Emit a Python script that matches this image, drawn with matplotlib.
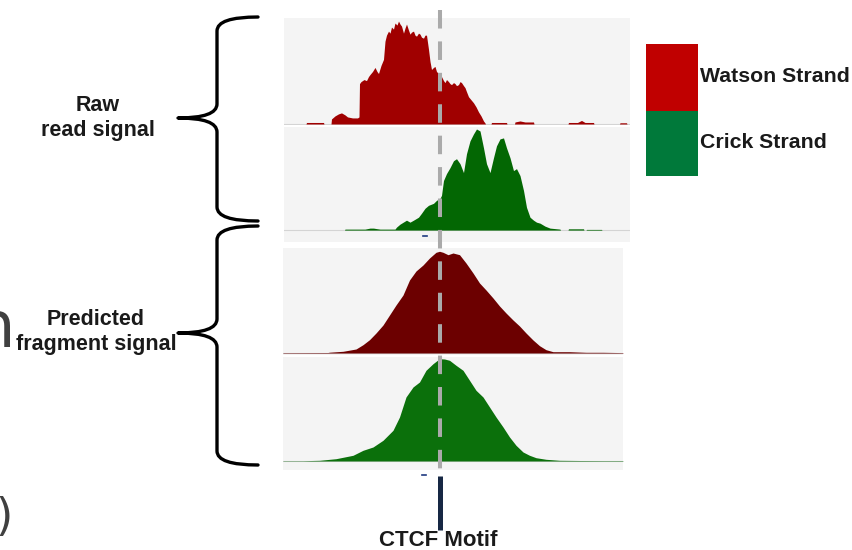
import matplotlib.pyplot as plt
from matplotlib.path import Path
from matplotlib.patches import PathPatch, Rectangle

# signal tracks around a CTCF motif (position in bp relative to motif)
# heights (arbitrary signal units)

watson_raw_pos = [-268, -267, -233, -232, -218, -217, -210, -203, -197, -190, -185, -175,
                  -165, -162, -161, -158, -152, -147, -143, -140, -135, -130, -126, -123,
                  -118, -113, -110, -107, -103, -100, -97, -93, -90, -86, -83, -80, -77,
                  -73, -70, -67, -63, -60, -57, -53, -50, -47, -43, -40, -37, -33, -30,
                  -27, -23, -20, -17, -13, -10, -7, -3, 0, 3, 7, 10, 13, 17, 20, 23, 27,
                  30, 33, 37, 40, 43, 47, 50, 53, 57, 62, 67, 72, 77, 82, 87, 90, 91,
                  102, 103, 133, 134, 149, 150, 160, 170, 187, 188, 256, 257, 275, 283,
                  290, 307, 308, 359, 360, 373, 374]
watson_raw_val = [0, 1.5, 1.5, 0, 0, 5, 8, 10, 11, 9, 7, 6,
                  6, 7, 40, 42, 44, 43, 47, 49, 52, 56, 52, 50,
                  58, 64, 82, 88, 92, 90, 96, 94, 100, 98, 102, 99, 97,
                  90, 95, 99, 93, 89, 91, 92, 88, 87, 90, 89, 86, 85, 88,
                  88, 74, 62, 54, 56, 57, 52, 50, 48, 47, 43, 41, 44, 42, 40, 39, 41,
                  40, 38, 39, 42, 41, 38, 36, 32, 27, 24, 21, 17, 12, 8, 3, 1, 0,
                  0, 1.5, 1.5, 0, 0, 2, 3, 2, 2, 0, 0, 1.5, 1.5, 3.5,
                  1.5, 1.5, 0, 0, 1.2, 1.2, 0]

crick_raw_pos = [-191, -190, -150, -140, -133, -127, -120, -90, -87, -80, -67, -60, -53,
                 -43, -37, -30, -23, -13, -7, 0, 3, 7, 13, 20, 27, 33, 40, 47, 53, 60,
                 67, 73, 80, 87, 93, 100, 107, 113, 120, 127, 133, 140, 147, 153, 160,
                 167, 173, 180, 187, 193, 200, 210, 220, 240, 241,
                 256, 257, 287, 288, 292, 293, 323, 324]
crick_raw_val = [0, 1, 1, 2, 2, 1.5, 1, 1, 3, 6, 10, 8, 10,
                 13, 17, 22, 25, 27, 30, 32, 35, 50, 57, 63, 70, 72, 67, 58, 77, 90,
                 97, 102, 100, 83, 67, 58, 73, 85, 92, 93, 83, 73, 60, 62, 55,
                 40, 23, 13, 10, 8, 7, 4, 2, 1, 0,
                 0, 1.3, 1.3, 0, 0, 0.7, 0.7, 0]

watson_pred_pos = [-313, -223, -220, -193, -167, -153, -140, -127, -113, -100, -87, -73,
                   -60, -47, -33, -20, -7, 0, 7, 17, 27, 40, 53, 67, 80, 93, 107, 120,
                   133, 147, 160, 173, 187, 200, 213, 227, 260, 293, 327, 367]
watson_pred_val = [0.4, 0.5, 0.8, 1.7, 4, 8.3, 13.3, 20, 28, 38, 48, 58,
                   73, 82, 88, 95, 100.7, 101.7, 100.7, 98.3, 100, 98.3, 90, 80, 70, 63, 55, 47,
                   40, 33, 27, 20, 13, 7.3, 3.3, 1.3, 1.3, 0.7, 0.7, 0.4]

crick_pred_pos = [-313, -273, -240, -207, -173, -153, -133, -113, -93, -80, -67, -53,
                  -40, -27, -13, 0, 10, 20, 33, 47, 60, 73, 87, 100, 113, 127, 140,
                  153, 167, 180, 193, 213, 240, 280, 327, 367]
crick_pred_val = [0.3, 0.3, 0.7, 2.3, 5.7, 10.7, 14, 20.7, 30.7, 44, 64, 74,
                  79, 90.7, 97.3, 102.3, 102, 100.7, 95.7, 90.7, 80.7, 70.7, 64, 54, 44, 34, 24,
                  15.7, 9, 5.7, 3.3, 1.7, 0.7, 0.5, 0.4, 0.4]

motif_pos = 0
strand_labels = ['Watson Strand', 'Crick Strand']
strand_colors = ['#c00000', '#00793a']

W, H = 852, 550
fig = plt.figure(figsize=(W / 100, H / 100), dpi=100)
plt.rcParams['font.family'] = ['Liberation Sans', 'DejaVu Sans']


def px_axes(x0, y0, x1, y1):
    # axes placed by pixel box (top-left origin)
    return fig.add_axes([x0 / W, 1 - y1 / H, (x1 - x0) / W, (y1 - y0) / H])


def track(box, xlim, ylim, pos, val, color):
    ax = px_axes(*box)
    ax.set_facecolor('#f4f4f4')
    ax.axhline(0, color='#d4d4d4', lw=0.8, zorder=1)
    ax.fill_between(pos, val, 0, color=color, lw=0, zorder=2)
    ax.set_xlim(*xlim)
    ax.set_ylim(*ylim)
    ax.set_xticks([])
    ax.set_yticks([])
    for s in ax.spines.values():
        s.set_visible(False)
    return ax


raw_xlim = (-312, 380)
pred_xlim = (-313, 367)
track((284, 18, 630, 125), raw_xlim, (-1, 105), watson_raw_pos, watson_raw_val, '#a00000')
track((284, 127, 630, 242), raw_xlim, (-12, 104), crick_raw_pos, crick_raw_val, '#036703')
track((283, 248, 623, 355), pred_xlim, (-2, 105), watson_pred_pos, watson_pred_val, '#6c0000')
track((283, 357, 623, 470), pred_xlim, (-9, 104), crick_pred_pos, crick_pred_val, '#0b700b')

# motif line, aligned with the raw tracks horizontally, pixels vertically
axm = px_axes(284, 0, 630, 550)
axm.set_xlim(*raw_xlim)
axm.set_ylim(550, 0)
axm.axis('off')
axm.plot([motif_pos, motif_pos], [10, 470], color='#aaaaaa', lw=2.9,
         dashes=[4.6, 3.2], solid_capstyle='butt', dash_capstyle='butt')
axm.plot([motif_pos, motif_pos], [476, 530], color='#172844', lw=3.6,
         solid_capstyle='butt')
axm.plot([-34, -26], [236, 236], color='#1f3a80', lw=1.2)
axm.plot([-36, -28], [475, 475], color='#1f3a80', lw=1.2)
axm.text(motif_pos - 4, 541, 'CTCF Motif', ha='center', va='center',
         fontsize=16, fontweight='bold', color='#1a1a1a', clip_on=False)

# overlay in figure pixels for braces, labels, legend
ov = fig.add_axes([0, 0, 1, 1])
ov.set_xlim(0, W)
ov.set_ylim(H, 0)
ov.axis('off')
ov.patch.set_alpha(0)


def brace(y0, y1, ym, xs=217, xe=258, xt=178, r=14):
    verts = [(xe, y0), (xs, y0), (xs, y0 + r), (xs, ym - r), (xs, ym), (xt, ym),
             (xs, ym), (xs, ym + r), (xs, y1 - r), (xs, y1), (xe, y1)]
    codes = [Path.MOVETO, Path.CURVE3, Path.CURVE3, Path.LINETO, Path.CURVE3, Path.CURVE3,
             Path.CURVE3, Path.CURVE3, Path.LINETO, Path.CURVE3, Path.CURVE3]
    ov.add_patch(PathPatch(Path(verts, codes), fill=False, lw=2.4, color='black',
                           capstyle='round', joinstyle='round'))


brace(17, 221, 118)
brace(226, 465, 333)
ov.text(98, 118, 'Raw\nread signal', ha='center', va='center', fontsize=15.5,
        fontweight='bold', color='#1a1a1a', linespacing=1.25)
ov.text(96, 332, 'Predicted\nfragment signal', ha='center', va='center', fontsize=15.5,
        fontweight='bold', color='#1a1a1a', linespacing=1.2)

# legend blocks
ov.add_patch(Rectangle((646, 44), 52, 67, color=strand_colors[0], lw=0))
ov.add_patch(Rectangle((646, 111), 52, 65, color=strand_colors[1], lw=0))
ov.text(700, 77, strand_labels[0], ha='left', va='center', fontsize=15.3,
        fontweight='bold', color='#1a1a1a')
ov.text(700, 143, strand_labels[1], ha='left', va='center', fontsize=15.3,
        fontweight='bold', color='#1a1a1a')

# cropped letters at the left edge of the slide
ov.text(15, 347, 'n', ha='right', va='baseline', fontsize=46, family='DejaVu Sans',
        color='#404040')
ov.text(13, 518, ')', ha='right', va='center', fontsize=32, family='DejaVu Sans',
        color='#404040')

fig.savefig('out.png', dpi=100, facecolor='white')
